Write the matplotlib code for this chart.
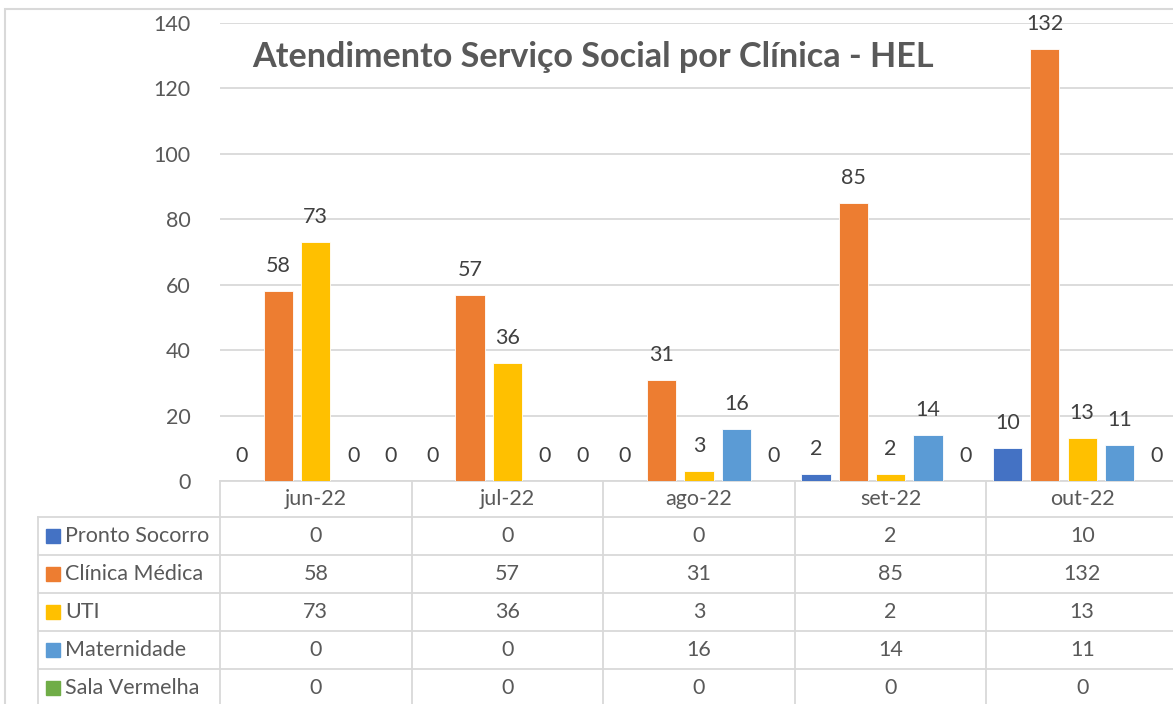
import matplotlib.pyplot as plt
import numpy as np
from matplotlib.patches import Rectangle

# data
months = ["jun-22", "jul-22", "ago-22", "set-22", "out-22"]
series_names = ["Pronto Socorro", "Clínica Médica", "UTI", "Maternidade", "Sala Vermelha"]
pronto_socorro = [0, 0, 0, 2, 10]
clinica_medica = [58, 57, 31, 85, 132]
uti = [73, 36, 3, 2, 13]
maternidade = [0, 0, 16, 14, 11]
sala_vermelha = [0, 0, 0, 0, 0]
colors = ["#4472C4", "#ED7D31", "#FFC000", "#5B9BD5", "#70AD47"]
title = "Atendimento Serviço Social por Clínica - HEL"

values = [pronto_socorro, clinica_medica, uti, maternidade, sala_vermelha]

TXT = "#595959"
GRID = "#D9D9D9"
FS = 15.5
W, H = 1173, 704
plt.rcParams["font.family"] = ["Lato", "DejaVu Sans"]

fig = plt.figure(figsize=(W / 100, H / 100), dpi=100)


def fx(px):
    return px / W


def fy(py):
    return 1 - py / H


# layout in pixels
left, right = 220, 220 + 5 * 191.6
y_top, y_zero = 23, 481
row_h = 38
header_bottom = 517
n_rows = len(series_names)
table_bottom = header_bottom + n_rows * row_h

ax = fig.add_axes([fx(left), fy(y_zero), fx(right - left), (y_zero - y_top) / H])
x = np.arange(len(months))
step = 0.195
bw = 0.153
for i, (name, vals, c) in enumerate(zip(series_names, values, colors)):
    pos = x + (i - 2) * step
    ax.bar(pos, vals, width=bw, color=c, edgecolor="white", linewidth=0.6, zorder=3)
    for xp, v in zip(pos, vals):
        ax.annotate(str(v), (xp, v), xytext=(0, 18), textcoords="offset points",
                    ha="center", va="center", fontsize=FS, color="#404040", zorder=4)

ax.set_xlim(-0.5, len(months) - 0.5)
ax.set_ylim(0, 140)
ax.set_yticks(range(0, 141, 20))
ax.yaxis.grid(True, color=GRID, linewidth=1.3)
ax.set_axisbelow(True)
ax.tick_params(axis="y", length=0, pad=21, labelsize=FS, labelcolor=TXT)
ax.tick_params(axis="x", length=0, labelbottom=False)
for s in ["top", "right", "left"]:
    ax.spines[s].set_visible(False)
ax.spines["bottom"].set_color(GRID)
ax.spines["bottom"].set_linewidth(1.3)

ax.text(0.034, 0.926, title, transform=ax.transAxes, ha="left", va="center",
        fontsize=24.6, fontweight="bold", color=TXT)

# data table below the chart
tax = fig.add_axes([fx(left), fy(H), fx(right - left), (H - y_zero) / H])
tax.set_xlim(-0.5, len(months) - 0.5)
tax.set_ylim(H, y_zero)
tax.axis("off")
leg_left = -0.5 - (left - 38) / 191.6

for b in np.arange(-0.5, len(months), 1.0):
    tax.plot([b, b], [y_zero, table_bottom], color=GRID, lw=1.3, clip_on=False)
tax.plot([leg_left, leg_left], [header_bottom, table_bottom], color=GRID, lw=1.3, clip_on=False)
for r in range(n_rows + 1):
    yy = header_bottom + r * row_h
    tax.plot([leg_left, len(months) - 0.5], [yy, yy], color=GRID, lw=1.3, clip_on=False)

for j, m in enumerate(months):
    tax.text(j, (y_zero + header_bottom) / 2, m, ha="center", va="center",
             fontsize=FS, color=TXT)

sq = 14 / 191.6
for i, (name, vals, c) in enumerate(zip(series_names, values, colors)):
    yc = header_bottom + (i + 0.5) * row_h
    tax.add_patch(Rectangle((leg_left + 8 / 191.6, yc - 7), sq, 14, color=c, clip_on=False))
    tax.text(leg_left + 27 / 191.6, yc, name, ha="left", va="center",
             fontsize=FS, color=TXT, clip_on=False)
    for j, v in enumerate(vals):
        tax.text(j, yc, str(v), ha="center", va="center", fontsize=FS, color=TXT)

# outer chart border
fig.add_artist(Rectangle((fx(5), fy(H + 20)), 1.1, (H + 20 - 9) / H,
                         transform=fig.transFigure, fill=False, edgecolor=GRID, lw=1.5))

fig.savefig("out.png", dpi=100)
